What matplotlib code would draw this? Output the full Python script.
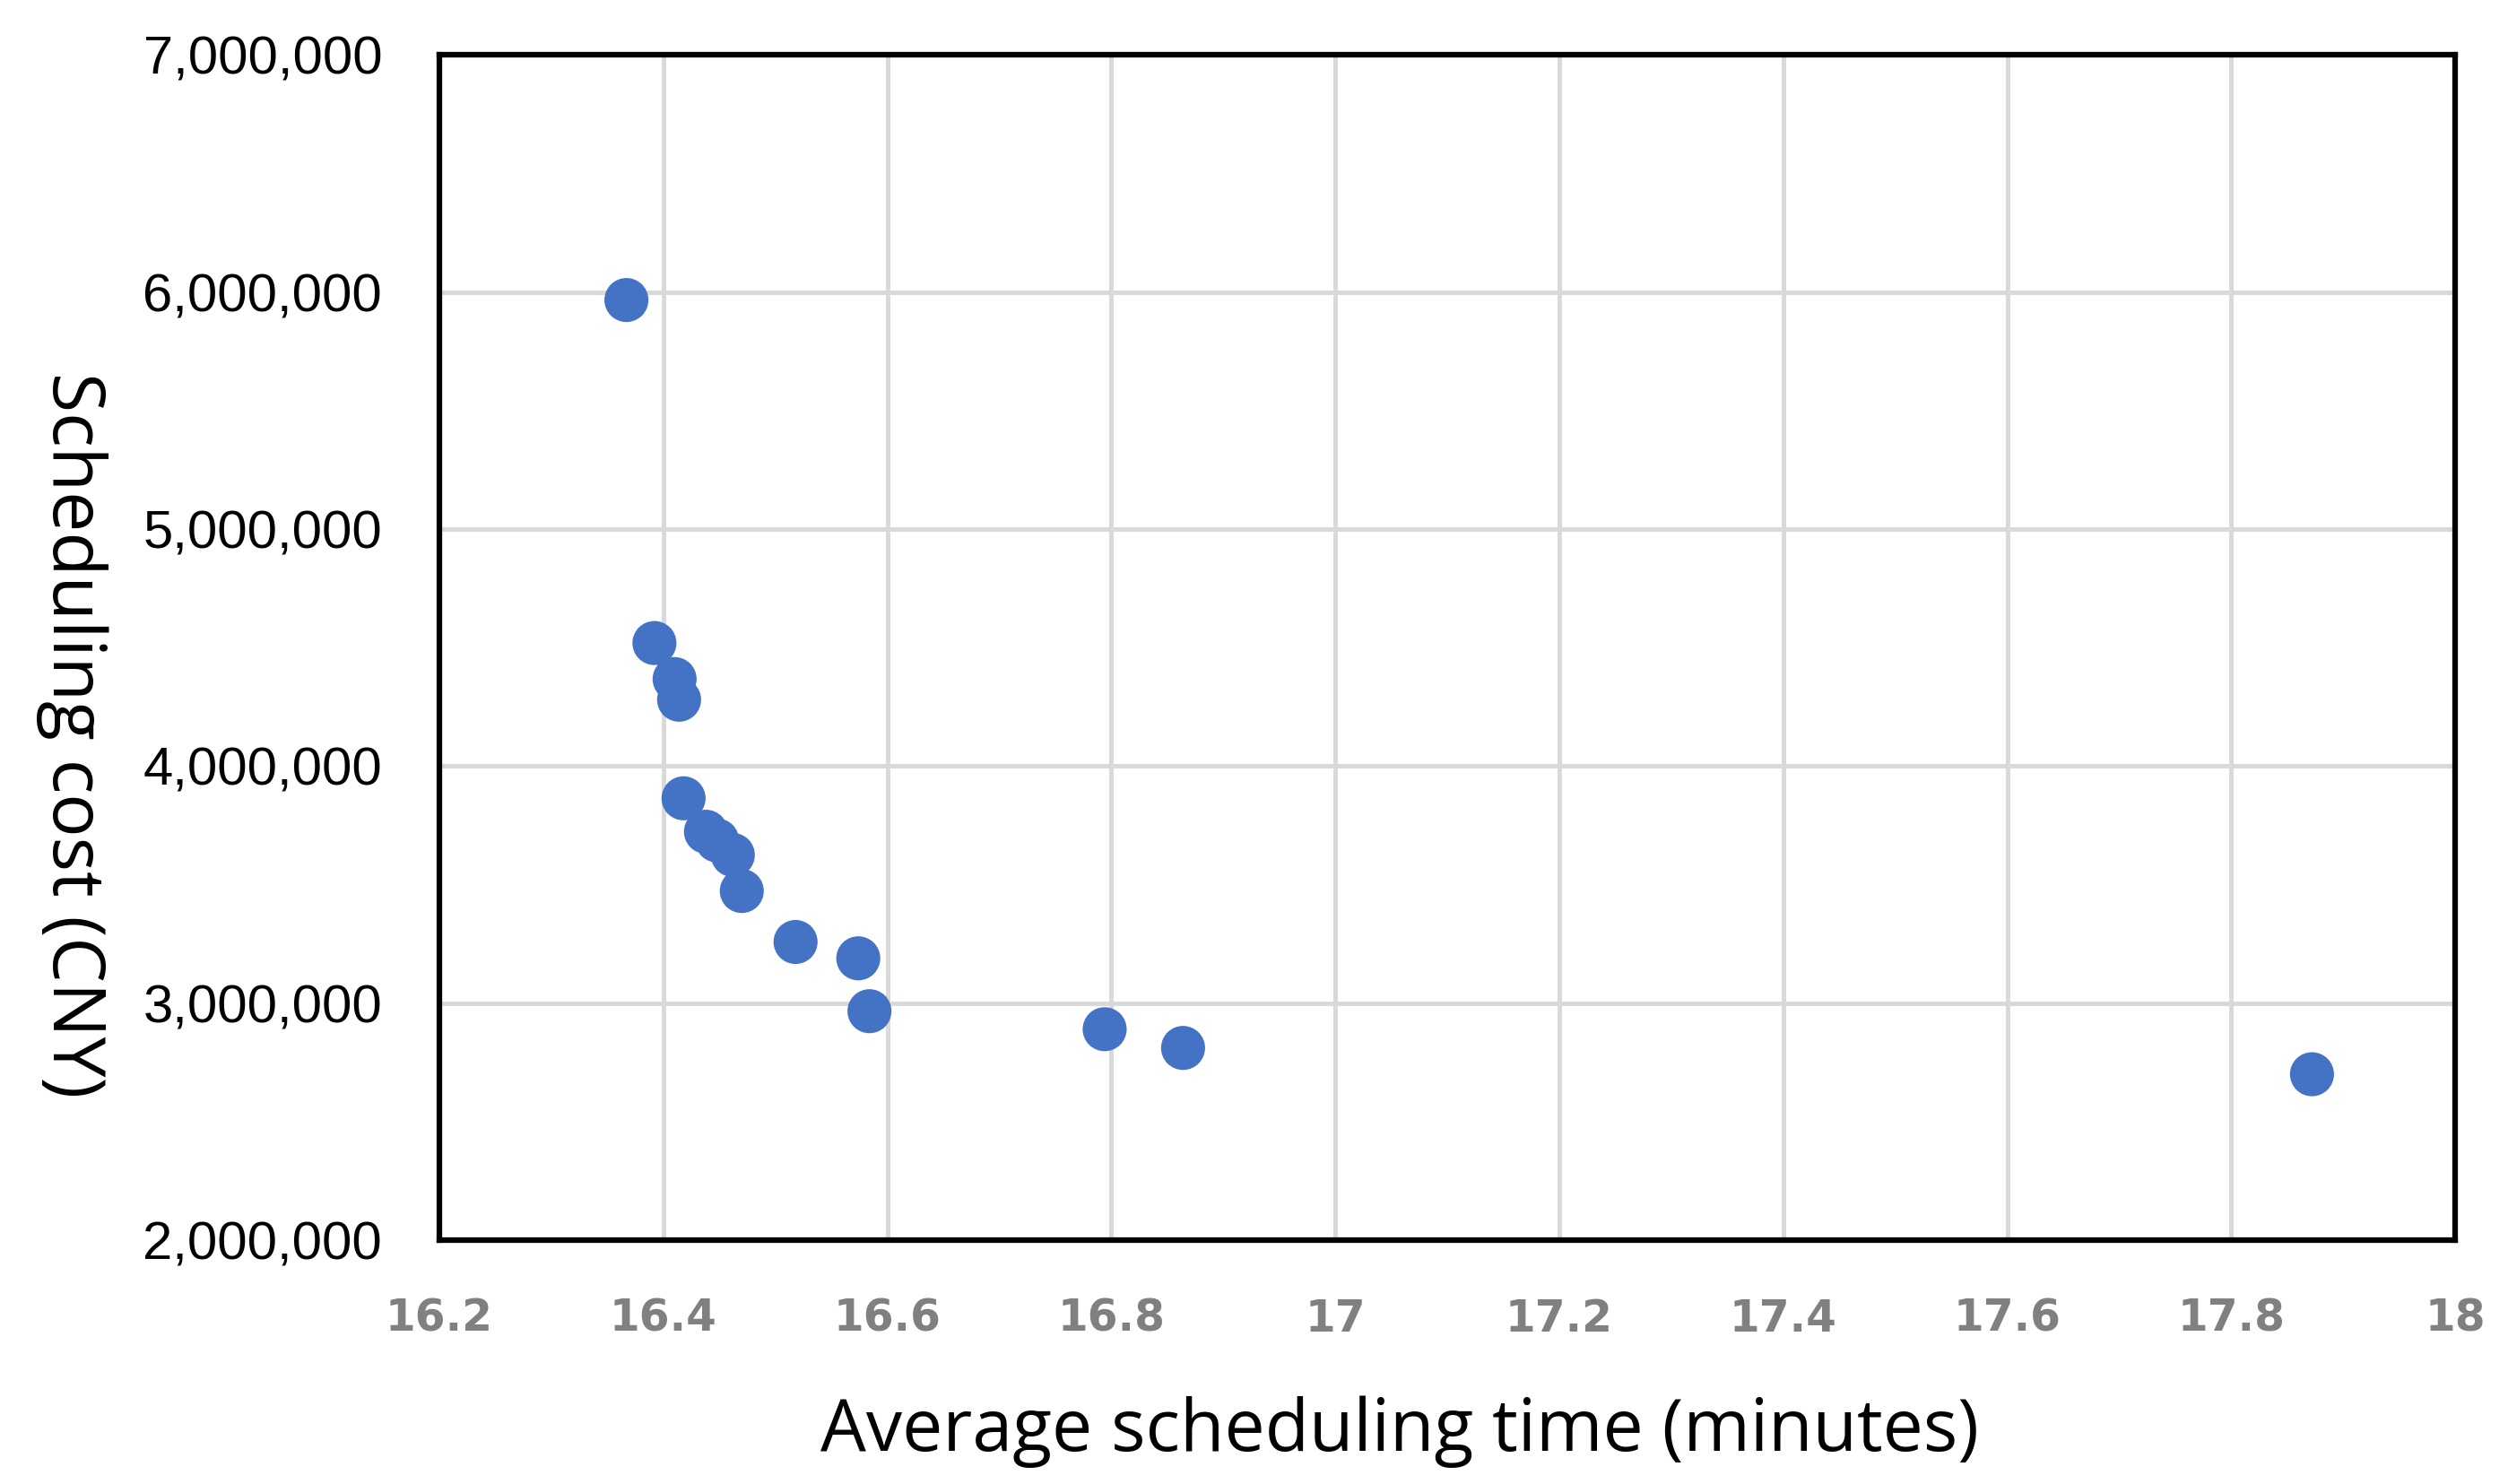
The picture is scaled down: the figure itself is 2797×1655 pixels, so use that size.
import matplotlib.pyplot as plt
from matplotlib.ticker import FuncFormatter

# values
avg_time = [16.367, 16.392, 16.410, 16.414, 16.418, 16.438, 16.448, 16.462,
            16.470, 16.518, 16.574, 16.584, 16.794, 16.864, 17.872]
cost = [5.966, 4.519, 4.367, 4.280, 3.864, 3.723, 3.686, 3.625,
        3.473, 3.258, 3.189, 2.966, 2.890, 2.811, 2.700]
cost = [c * 1e6 for c in cost]

x_ticks = [16.2, 16.4, 16.6, 16.8, 17, 17.2, 17.4, 17.6, 17.8, 18]
y_ticks = [2e6, 3e6, 4e6, 5e6, 6e6, 7e6]

fig = plt.figure(figsize=(27.97, 16.55), dpi=100)
ax = fig.add_axes([0.1752, 0.1643, 0.979 - 0.1752, 0.963 - 0.1643])

ax.scatter(avg_time, cost, s=1250, color='#4472C4', edgecolors='none', zorder=3)

ax.set_xlim(16.2, 18)
ax.set_ylim(2e6, 7e6)
ax.set_xticks(x_ticks)
ax.set_yticks(y_ticks)
ax.xaxis.set_major_formatter(FuncFormatter(lambda v, p: f"{v:g}"))
ax.yaxis.set_major_formatter(FuncFormatter(lambda v, p: f"{int(v):,}"))

ax.grid(True, color='#d9d9d9', linewidth=3.6, zorder=0)
ax.set_axisbelow(True)
for sp in ax.spines.values():
    sp.set_linewidth(4.5)
    sp.set_color('black')

ax.tick_params(axis='both', length=0)
ax.tick_params(axis='y', pad=46, labelsize=43, labelcolor='black')
ax.tick_params(axis='x', pad=46, labelsize=35, labelcolor='#808080')
for lab in ax.get_yticklabels():
    lab.set_family('Liberation Sans')
for lab in ax.get_xticklabels():
    lab.set_family('DejaVu Sans')
    lab.set_fontweight('bold')

fig.text(1561 / 2797, 1 - 1597 / 1655, "Average scheduling time (minutes)",
         ha='center', va='center', fontsize=58, family='Open Sans')
fig.text(80 / 2797, 1 - 820 / 1655, "Scheduling cost (CNY)",
         ha='center', va='center', rotation=270, fontsize=58, family='Open Sans')

plt.savefig("out.png", dpi=100)
